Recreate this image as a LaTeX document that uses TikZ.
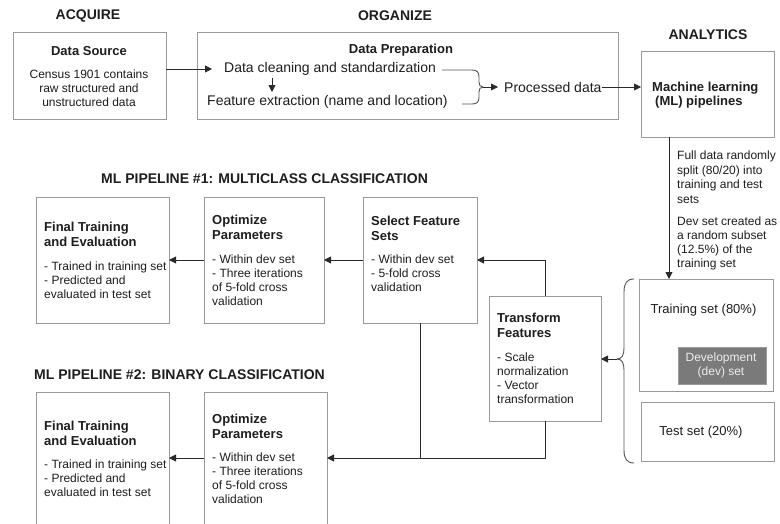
\documentclass[tikz,border=0pt]{standalone}
\usepackage{fontspec}
\setmainfont{Liberation Sans}
\usetikzlibrary{arrows.meta}
\definecolor{bxc}{HTML}{9A9A9A}
\definecolor{lnc}{HTML}{2A2A2A}
\definecolor{brc}{HTML}{555555}
\definecolor{txc}{HTML}{1E1E1E}
\definecolor{devfill}{HTML}{7A7A7A}
\definecolor{devtxt}{HTML}{EDEDED}
\begin{document}
\begin{tikzpicture}[x=1pt,y=-1pt,
  box/.style={draw=bxc, line width=0.9pt, anchor=north west, inner sep=0pt, outer sep=0pt},
  ln/.style={draw=lnc, line width=0.9pt},
  brc/.style={draw=brc, line width=0.9pt},
  arr/.style={ln, -{Triangle[length=7pt,width=7pt]}},
  head/.style={font=\fontsize{14}{16}\selectfont\bfseries, text=txc, inner sep=0pt},
  ttl/.style={font=\fontsize{13}{15}\selectfont\bfseries, align=left, anchor=north west, inner sep=0pt, text=txc},
  body/.style={font=\fontsize{12}{14}\selectfont, align=left, anchor=north west, inner sep=0pt, text=txc},
  big/.style={font=\fontsize{14}{16}\selectfont, anchor=west, inner sep=0pt, text=txc},
  mid/.style={font=\fontsize{13}{15}\selectfont, inner sep=0pt, text=txc}]
\clip (0,0) rectangle (780,523);
\fill[white] (0,0) rectangle (780,523);

% headings
\node[head] (hacq) at (88,16) {ACQUIRE};
\node[head] (horg) at (395,16) {ORGANIZE};
\node[head] (hana) at (708,35) {ANALYTICS};
\node[head, anchor=west] (hp1) at (101,179) {ML PIPELINE \#1: MULTICLASS CLASSIFICATION};
\node[head, anchor=west] (hp2) at (34,375) {ML PIPELINE \#2: BINARY CLASSIFICATION};

% boxes
\node[box, minimum width=153pt, minimum height=87pt] (ds) at (13,32) {};
\node[box, minimum width=421pt, minimum height=87pt] (dp) at (197,32) {};
\node[box, minimum width=133pt, minimum height=86pt] (ml) at (641,51) {};
\node[box, minimum width=133pt, minimum height=126pt] (fin1) at (36,197) {};
\node[box, minimum width=120pt, minimum height=126pt] (opt1) at (204,197) {};
\node[box, minimum width=114pt, minimum height=126pt] (sel) at (363,197) {};
\node[box, minimum width=112pt, minimum height=125pt] (tf) at (489,296) {};
\node[box, minimum width=134pt, minimum height=112pt] (trn) at (639,279) {};
\node[box, fill=devfill, minimum width=88pt, minimum height=37pt] (dev) at (678,347) {};
\node[box, minimum width=133pt, minimum height=59pt] (tst) at (641,402) {};
\node[box, minimum width=133pt, minimum height=150pt] (fin2) at (36,392) {};
\node[box, minimum width=123pt, minimum height=150pt] (opt2) at (204,392) {};

% data source
\node[ttl, anchor=north] (dst) at (89,46) {Data Source};
\node[body, align=center, anchor=north] (dsb) at (89,69.5) {Census 1901 contains\\raw structured and\\unstructured data};

% data preparation
\node[ttl, anchor=north] (dpt) at (401,43.5) {Data Preparation};
\node[big] (dc) at (224,69) {Data cleaning and standardization};
\node[big] (fe) at (207,102) {Feature extraction (name and location)};
\node[big] (pd) at (504,87) {Processed data};

% ML
\node[ttl, anchor=north west, font=\fontsize{13}{14}\selectfont\bfseries] (mlt) at (652,82) {Machine learning\\\hspace*{3pt}(ML) pipelines};

% split text
\node[body, font=\fontsize{12}{14.6}\selectfont] (splt) at (677,150.5) {Full data randomly\\split (80/20) into\\training and test\\sets};
\node[body] (devt) at (677,216.5) {Dev set created as\\a random subset\\(12.5\%) of the\\training set};

% sets
\node[mid] (trnt) at (703.5,310) {Training set (80\%)};
\node[font=\fontsize{12}{14.5}\selectfont, align=center, text=devtxt, inner sep=0pt] (devl) at (721,365.5) {Development\\(dev) set};
\node[mid] (tstt) at (701,432) {Test set (20\%)};

% transform
\node[ttl] (tft) at (497,313) {Transform\\Features};
\node[body] (tfb) at (497,352.5) {- Scale\\normalization\\- Vector\\transformation};

% pipeline 1
\node[ttl] (fin1t) at (44,222) {Final Training\\and Evaluation};
\node[body] (fin1b) at (44,261.5) {- Trained in training set\\- Predicted and\\evaluated in test set};
\node[ttl] (opt1t) at (212,215) {Optimize\\Parameters};
\node[body] (opt1b) at (212,254.5) {- Within dev set\\- Three iterations\\of 5-fold cross\\validation};
\node[ttl] (selt) at (371,216) {Select Feature\\Sets};
\node[body] (selb) at (371,254.5) {- Within dev set\\- 5-fold cross\\validation};

% pipeline 2
\node[ttl] (fin2t) at (44,421) {Final Training\\and Evaluation};
\node[body] (fin2b) at (44,459.5) {- Trained in training set\\- Predicted and\\evaluated in test set};
\node[ttl] (opt2t) at (212,414) {Optimize\\Parameters};
\node[body] (opt2b) at (212,452.5) {- Within dev set\\- Three iterations\\of 5-fold cross\\validation};

% connectors top
\coordinate (dpin) at (212,69);
\draw[arr] (ds.east |- dpin) -- (dpin);
\coordinate (sa1) at (272,78);
\coordinate (sa2) at (272,92);
\draw[arr] (sa1) -- (sa2);

% small brace
\coordinate (b1) at (442,70);
\coordinate (b2) at (462,104);
\coordinate (bt) at (483,87);
\draw[brc] (b1) -- (472,70) .. controls (477,70) and (479,72) .. (479,77) -- (479,82) .. controls (479,85) and (480,87) .. (bt);
\draw[brc] (b2) -- (472,104) .. controls (477,104) and (479,102) .. (479,97) -- (479,92) .. controls (479,89) and (480,87) .. (bt);
\draw[arr] (bt) -- ([xshift=-6pt]pd.west);
\draw[arr] (pd.east) -- (pd.east -| ml.west);

% ML to training
\coordinate (mlx) at (669,0);
\draw[arr] (ml.south -| mlx) -- (trn.north -| mlx);

% big brace
\coordinate (B1) at (634,279);
\coordinate (B2) at (634,463);
\coordinate (BT) at (617,359);
\draw[brc] (B1) .. controls (627,279) and (624,283) .. (624,292) -- (624,348) .. controls (624,355) and (622,359) .. (BT);
\draw[brc] (B2) .. controls (627,463) and (624,459) .. (624,450) -- (624,370) .. controls (624,363) and (622,359) .. (BT);
\draw[arr] (BT) -- (BT -| tf.east);

% pipeline connectors
\draw[arr] (tf.north) |- (sel.east);
\draw[arr] (sel.west) -- (opt1.east);
\draw[arr] (opt1.west) -- (fin1.east);
\coordinate (p2y) at (0,458);
\draw[arr] (tf.south) |- (opt2.east |- p2y);
\draw[ln] (sel.south) -- (sel.south |- p2y);
\draw[arr] (opt2.west |- p2y) -- (fin2.east |- p2y);
\end{tikzpicture}
\end{document}
